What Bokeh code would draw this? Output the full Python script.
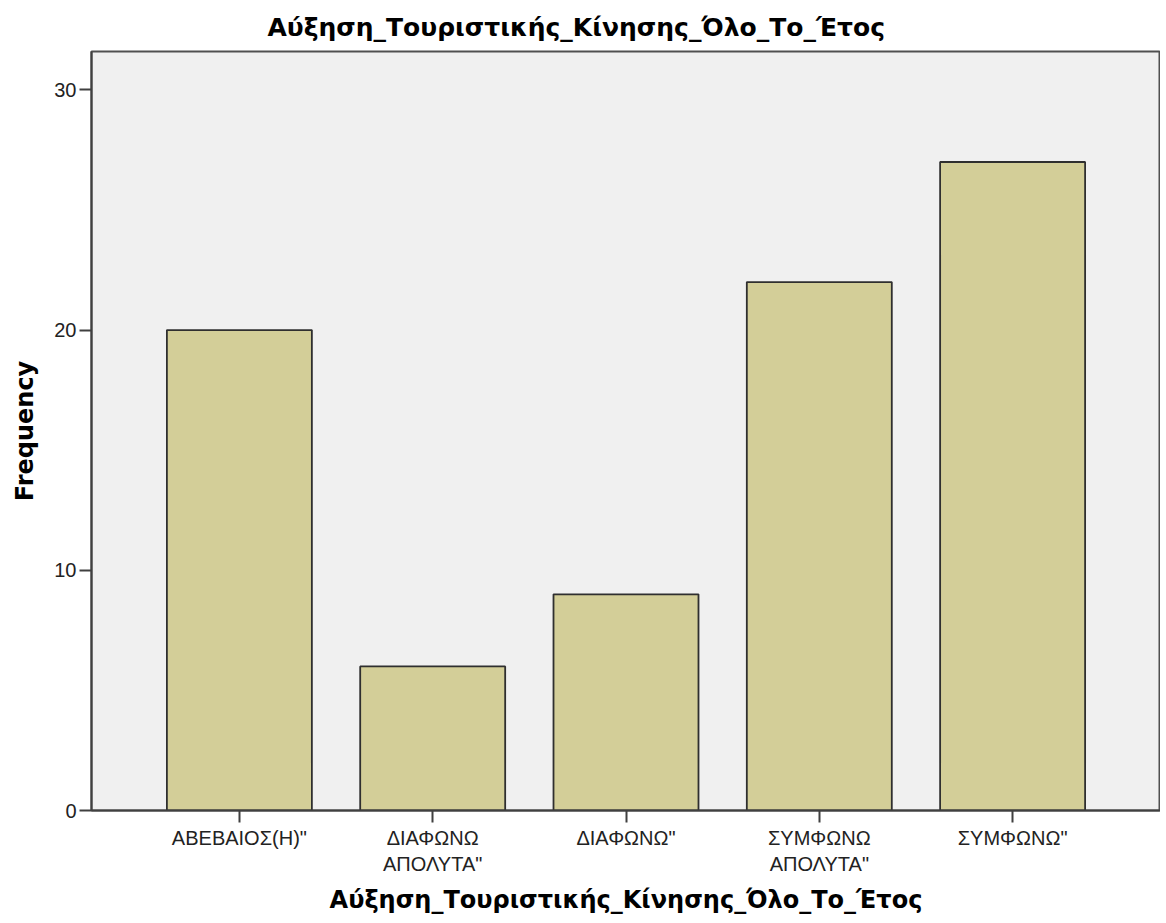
from bokeh.plotting import figure
from bokeh.models import FactorRange, Range1d, ColumnDataSource, FixedTicker
from bokeh.embed import file_html
from bokeh.resources import INLINE

categories = ['ΑΒΕΒΑΙΟΣ(Η)"', 'ΔΙΑΦΩΝΩ\nΑΠΟΛΥΤΑ"', 'ΔΙΑΦΩΝΩ"', 'ΣΥΜΦΩΝΩ\nΑΠΟΛΥΤΑ"', 'ΣΥΜΦΩΝΩ"']
frequency = [20, 6, 9, 22, 27]
y_ticks = [0, 10, 20, 30]
title_text = "Αύξηση_Τουριστικής_Κίνησης_Όλο_Το_Έτος"

source = ColumnDataSource(data=dict(cat=categories, freq=frequency))

p = figure(
    x_range=FactorRange(factors=categories, range_padding=0.265, range_padding_units="absolute"),
    y_range=Range1d(0, 31.6),
    width=1160, height=916,
    min_border_left=91, min_border_top=49, min_border_bottom=105, min_border_right=0,
    output_backend="svg", toolbar_location=None,
    background_fill_color="#F0F0F0", border_fill_color="white",
)

p.vbar(x="cat", top="freq", width=0.75, source=source,
       fill_color="#D3CE98", line_color="#2F2F2F", line_width=1.8)

# title
p.title.text = title_text
p.title.align = "left"
p.title.text_font = "DejaVu Sans"
p.title.text_font_size = "25px"
p.title.text_font_style = "bold"
p.title.text_color = "black"
p.title.offset = 176
p.title.standoff = 20

p.outline_line_color = "#505050"
p.outline_line_width = 2
p.grid.visible = False

# y axis
p.yaxis.ticker = FixedTicker(ticks=y_ticks)
p.yaxis.axis_label = "Frequency"
p.yaxis.axis_label_text_font = "DejaVu Sans"
p.yaxis.axis_label_text_font_style = "bold"
p.yaxis.axis_label_text_font_size = "24px"
p.yaxis.axis_label_text_color = "black"
p.yaxis.axis_label_standoff = 12
p.yaxis.major_label_text_font = "Liberation Sans"
p.yaxis.major_label_text_font_size = "20px"
p.yaxis.major_label_text_color = "#222222"
p.yaxis.major_label_standoff = 3
p.yaxis.major_tick_out = 12
p.yaxis.major_tick_in = 0
p.yaxis.minor_tick_line_color = None
p.yaxis.major_tick_line_color = "#404040"
p.yaxis.major_tick_line_width = 2
p.yaxis.axis_line_color = "#404040"
p.yaxis.axis_line_width = 2

# x axis
p.xaxis.axis_label = title_text
p.xaxis.axis_label_text_font = "DejaVu Sans"
p.xaxis.axis_label_text_font_style = "bold"
p.xaxis.axis_label_text_font_size = "24px"
p.xaxis.axis_label_text_color = "black"
p.xaxis.axis_label_standoff = 8
p.xaxis.major_label_text_font = "Liberation Sans"
p.xaxis.major_label_text_font_size = "20px"
p.xaxis.major_label_text_color = "#222222"
p.xaxis.major_label_standoff = 4
p.xaxis.major_tick_out = 12
p.xaxis.major_tick_in = 0
p.xaxis.major_tick_line_color = "#404040"
p.xaxis.major_tick_line_width = 2
p.xaxis.axis_line_color = "#404040"
p.xaxis.axis_line_width = 2

open("out.html", "w").write(file_html(p, INLINE))
